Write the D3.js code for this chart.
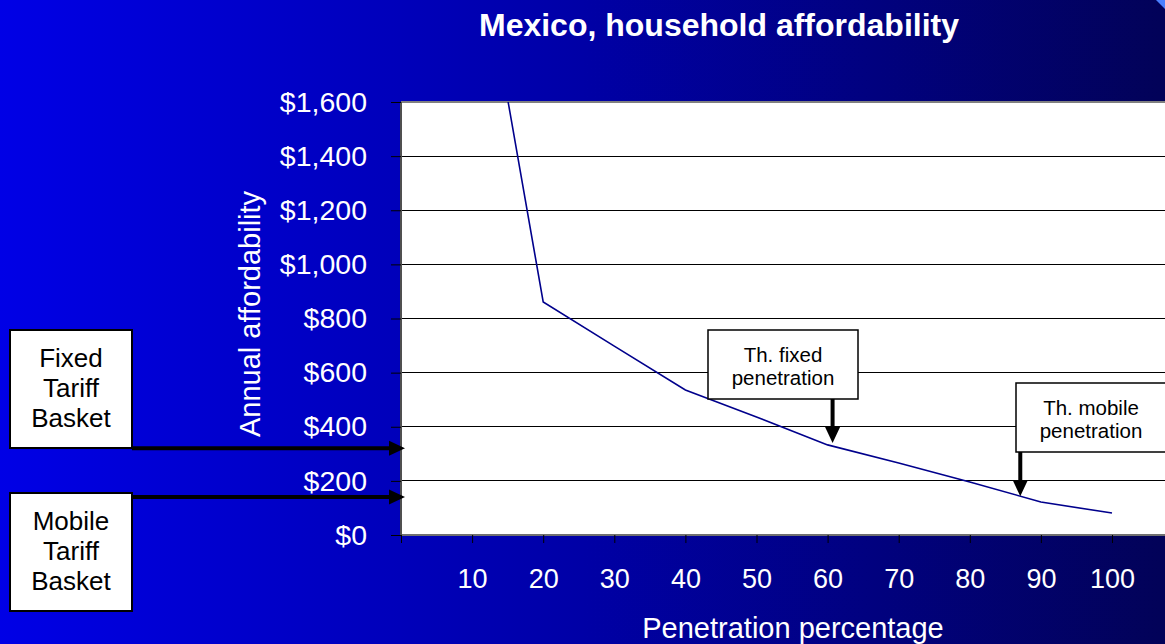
<!DOCTYPE html>
<html>
<head>
<meta charset="utf-8">
<script src="https://cdn.jsdelivr.net/npm/d3@7"></script>
<style>
  html, body { margin: 0; padding: 0; background: #000080; }
  svg { display: block; font-family: "Liberation Sans", Arial, sans-serif; }
</style>
</head>
<body>
<svg id="chart" width="1165" height="644"></svg>
<script>
// Data
const penetration = [10, 20, 30, 40, 50, 60, 70, 80, 90, 100];
const affordability = [2360, 861, 698, 536, 436, 333, 266, 196, 122, 81];
const yTicks = [0, 200, 400, 600, 800, 1000, 1200, 1400, 1600];
const xTicks = [0, 10, 20, 30, 40, 50, 60, 70, 80, 90, 100];

// Threshold callouts (penetration %, affordability $)
const thresholds = [
  { label: ['Th. fixed', 'penetration'], pen: 60.7, value: 340 },
  { label: ['Th. mobile', 'penetration'], pen: 87.1, value: 143 }
];
// Tariff baskets pointing to the y axis
const baskets = [
  { label: ['Fixed', 'Tariff', 'Basket'], value: 321 },
  { label: ['Mobile', 'Tariff', 'Basket'], value: 140 }
];

const svg = d3.select('#chart');
const W = 1165, H = 644;

// Background gradient
const defs = svg.append('defs');
const grad = defs.append('linearGradient')
  .attr('id', 'bg')
  .attr('x1', '0%').attr('y1', '0%')
  .attr('x2', '100%').attr('y2', '0%');
grad.append('stop').attr('offset', '0%').attr('stop-color', '#0000e6');
grad.append('stop').attr('offset', '50%').attr('stop-color', '#0000a6');
grad.append('stop').attr('offset', '100%').attr('stop-color', '#020258');

svg.append('rect')
  .attr('width', W).attr('height', H)
  .attr('fill', 'url(#bg)');

// small page-curl corner
svg.append('polygon')
  .attr('points', `${W - 9},0 ${W},0 ${W},9`)
  .attr('fill', '#4a80ff');

const plot = { left: 401, top: 102, right: 1172, bottom: 535 };

const x = d3.scaleLinear().domain([0, 100]).range([plot.left, 1112]);
const y = d3.scaleLinear().domain([0, 1600]).range([plot.bottom, plot.top]);

// Title
svg.append('text')
  .attr('x', 719).attr('y', 36)
  .attr('text-anchor', 'middle')
  .attr('fill', '#fff')
  .attr('font-size', 32)
  .attr('font-weight', 'bold')
  .text('Mexico, household affordability');

// Plot area
svg.append('rect')
  .attr('x', plot.left).attr('y', plot.top)
  .attr('width', plot.right - plot.left)
  .attr('height', plot.bottom - plot.top)
  .attr('fill', '#fff');

// Gridlines
svg.append('g')
  .selectAll('line')
  .data(yTicks.filter(d => d > 0 && d < 1600))
  .join('line')
  .attr('x1', plot.left).attr('x2', plot.right)
  .attr('y1', d => y(d)).attr('y2', d => y(d))
  .attr('stroke', '#000')
  .attr('stroke-width', 1)
  .attr('shape-rendering', 'crispEdges');

// Plot borders
svg.append('line')
  .attr('x1', plot.left).attr('x2', plot.right)
  .attr('y1', plot.top).attr('y2', plot.top)
  .attr('stroke', '#808080').attr('stroke-width', 2);
svg.append('line')
  .attr('x1', plot.left).attr('x2', plot.right)
  .attr('y1', plot.bottom).attr('y2', plot.bottom)
  .attr('stroke', '#707070').attr('stroke-width', 2);
svg.append('line')
  .attr('x1', plot.left).attr('x2', plot.left)
  .attr('y1', plot.top).attr('y2', plot.bottom)
  .attr('stroke', '#505050').attr('stroke-width', 2);

// Y axis
const yAxis = svg.append('g')
  .attr('transform', `translate(${plot.left},0)`)
  .call(d3.axisLeft(y)
    .tickValues(yTicks)
    .tickSize(10)
    .tickPadding(24)
    .tickFormat(d => '$' + d3.format(',')(d)));
yAxis.select('.domain').remove();
yAxis.selectAll('.tick line').attr('stroke', '#000');
yAxis.selectAll('.tick text')
  .attr('fill', '#fff')
  .attr('font-size', 28.5)
  .attr('font-family', '"Liberation Sans", Arial, sans-serif');

// X axis
const xAxis = svg.append('g')
  .attr('transform', `translate(0,${plot.bottom})`)
  .call(d3.axisBottom(x)
    .tickValues(xTicks)
    .tickSize(8)
    .tickPadding(26)
    .tickFormat(d => d === 0 ? '' : d));
xAxis.select('.domain').remove();
xAxis.selectAll('.tick line').attr('stroke', '#000');
xAxis.selectAll('.tick text')
  .attr('fill', '#fff')
  .attr('font-size', 27)
  .attr('font-family', '"Liberation Sans", Arial, sans-serif');

// Axis titles
svg.append('text')
  .attr('transform', 'translate(260,314) rotate(-90)')
  .attr('text-anchor', 'middle')
  .attr('fill', '#fff')
  .attr('font-size', 29)
  .text('Annual affordability');

svg.append('text')
  .attr('x', 793).attr('y', 638)
  .attr('text-anchor', 'middle')
  .attr('fill', '#fff')
  .attr('font-size', 29)
  .text('Penetration percentage');

// Line (clipped to plot area)
defs.append('clipPath').attr('id', 'clip')
  .append('rect')
  .attr('x', plot.left).attr('y', plot.top)
  .attr('width', plot.right - plot.left)
  .attr('height', plot.bottom - plot.top);

const lineData = penetration.map((p, i) => ({ p, v: affordability[i] }));
svg.append('path')
  .datum(lineData)
  .attr('clip-path', 'url(#clip)')
  .attr('fill', 'none')
  .attr('stroke', '#00008c')
  .attr('stroke-width', 1.6)
  .attr('d', d3.line().x(d => x(d.p)).y(d => y(d.v)));

// Threshold callouts: box + down arrow
const boxW = 150, boxH = 69;
const calloutBoxes = [
  { bx: 708, by: 330 },
  { bx: 1016, by: 383 }
];
thresholds.forEach((t, i) => {
  const b = calloutBoxes[i];
  const g = svg.append('g');
  const ax = x(t.pen);
  const tipY = y(t.value);
  g.append('line')
    .attr('x1', ax).attr('x2', ax)
    .attr('y1', b.by + boxH).attr('y2', tipY - 14)
    .attr('stroke', '#000').attr('stroke-width', 4);
  g.append('polygon')
    .attr('points', `${ax - 7.5},${tipY - 16} ${ax + 7.5},${tipY - 16} ${ax},${tipY}`)
    .attr('fill', '#000');
  g.append('rect')
    .attr('x', b.bx).attr('y', b.by)
    .attr('width', boxW).attr('height', boxH)
    .attr('fill', '#fff')
    .attr('stroke', '#000').attr('stroke-width', 1.5);
  g.selectAll('text')
    .data(t.label)
    .join('text')
    .attr('x', b.bx + boxW / 2)
    .attr('y', (d, j) => b.by + 32 + j * 23)
    .attr('text-anchor', 'middle')
    .attr('fill', '#000')
    .attr('font-size', 20.5)
    .text(d => d);
});

// Tariff basket boxes + arrows to the y axis
const basketBoxes = [
  { bx: 10, by: 330 },
  { bx: 10, by: 493 }
];
baskets.forEach((bk, i) => {
  const b = basketBoxes[i];
  const g = svg.append('g');
  const ay = y(bk.value);
  const tipX = plot.left + 4;
  g.append('line')
    .attr('x1', b.bx + 122).attr('x2', tipX - 12)
    .attr('y1', ay).attr('y2', ay)
    .attr('stroke', '#000').attr('stroke-width', 4);
  g.append('polygon')
    .attr('points', `${tipX - 16},${ay - 7.5} ${tipX - 16},${ay + 7.5} ${tipX},${ay}`)
    .attr('fill', '#000');
  g.append('rect')
    .attr('x', b.bx).attr('y', b.by)
    .attr('width', 122).attr('height', 118)
    .attr('fill', '#fff')
    .attr('stroke', '#000').attr('stroke-width', 2);
  g.selectAll('text')
    .data(bk.label)
    .join('text')
    .attr('x', b.bx + 61)
    .attr('y', (d, j) => b.by + 37 + j * 30)
    .attr('text-anchor', 'middle')
    .attr('fill', '#000')
    .attr('font-size', 26)
    .text(d => d);
});
</script>
</body>
</html>
